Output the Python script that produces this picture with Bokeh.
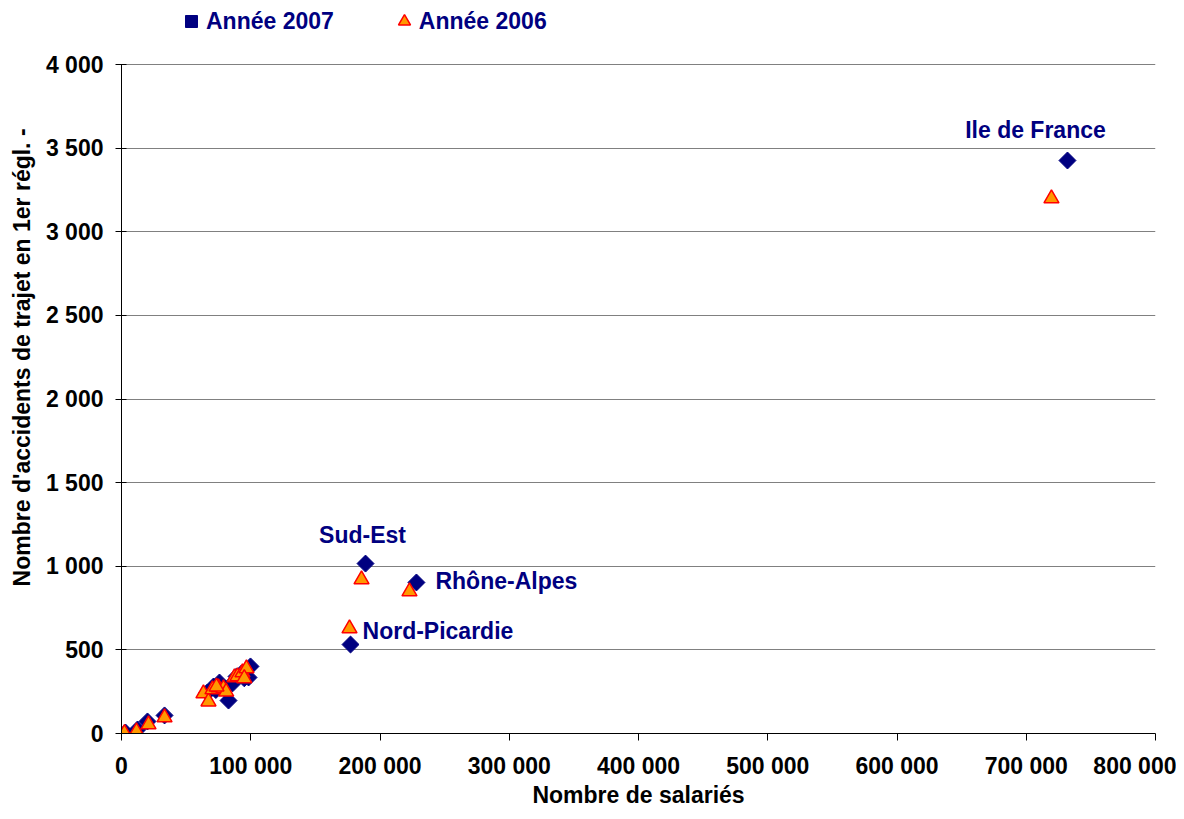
import numpy as np
from bokeh.plotting import figure
from bokeh.models import (Range1d, FixedTicker, Legend, LegendItem, Label, ColumnDataSource)
from bokeh.embed import file_html
from bokeh.resources import INLINE

# ---- data ----
x2007 = [731900, 188800, 228200, 177200,
         66500, 71200, 75800, 82800, 89000, 92800, 99800, 98300, 79700, 95000, 86000, 73000,
         3100, 12400, 20100, 33300]
y2007 = [3426, 1016, 903, 532,
         245, 281, 305, 197, 341, 359, 401, 335, 269, 330, 300, 260,
         6, 24, 72, 108]
x2006 = [719500, 185700, 222800, 176400,
         63400, 67300, 70400, 75000, 78900, 87400, 89700, 93600, 96700, 81000, 95000, 73500,
         2300, 11600, 20900, 33300]
y2006 = [3199, 921, 849, 628,
         239, 191, 263, 275, 269, 335, 341, 365, 389, 250, 330, 280,
         2, 12, 54, 96]
label_names = ["Ile de France", "Sud-Est", "Rhône-Alpes", "Nord-Picardie"]
label_x = x2007[:4]
label_y = y2007[:4]
series_names = ["Année 2007", "Année 2006"]
x_ticks = [0, 100000, 200000, 300000, 400000, 500000, 600000, 700000, 800000]
y_ticks = [0, 500, 1000, 1500, 2000, 2500, 3000, 3500, 4000]
y_title = "Nombre d'accidents de trajet en 1er régl. -"
x_title = "Nombre de salariés"
Y_MAX = 4000

FONT = "Liberation Sans"
NAVY = "#000080"
FS = "23px"

# the frame runs up to the top of the canvas so that the legend (drawn in the
# frame) can sit above the 4 000 line; 669 px plot height, 64 px headroom
FRAME_H, TOP_ROOM = 669, 64


def fmt(v):
    return f"{v:,}".replace(",", " ")


p = figure(width=1176, height=811, output_backend="svg", toolbar_location=None,
           x_range=Range1d(0, 800000),
           y_range=Range1d(0, Y_MAX * (FRAME_H + TOP_ROOM) / FRAME_H),
           min_border_left=121, min_border_right=21, min_border_top=0, min_border_bottom=78)
p.outline_line_color = None
p.background_fill_color = "white"

p.xgrid.grid_line_color = None
p.ygrid.grid_line_color = "#808080"
p.ygrid.grid_line_width = 1

for ax in [p.xaxis[0], p.yaxis[0]]:
    ax.axis_line_color = "#000000"
    ax.major_tick_line_color = "#000000"
    ax.minor_tick_line_color = None
    ax.major_label_text_font = FONT
    ax.major_label_text_font_style = "bold"
    ax.major_label_text_font_size = FS
    ax.major_label_text_color = "#000000"
    ax.axis_label_text_font = FONT
    ax.axis_label_text_font_style = "bold"
    ax.axis_label_text_font_size = FS
    ax.axis_label_text_color = "#000000"

p.xaxis.ticker = FixedTicker(ticks=x_ticks)
p.xaxis.major_label_overrides = {t: fmt(t) for t in x_ticks}
p.xaxis.major_tick_out = 7
p.xaxis.major_tick_in = 0
p.xaxis.major_label_standoff = 12
p.xaxis.axis_label = x_title
p.xaxis.axis_label_standoff = 0

p.yaxis.ticker = FixedTicker(ticks=y_ticks)
p.yaxis.bounds = (0, Y_MAX)
p.yaxis.major_label_overrides = {t: fmt(t) for t in y_ticks}
p.yaxis.major_tick_out = 6
p.yaxis.major_tick_in = 5
p.yaxis.major_label_standoff = 12
# leading no-break spaces move the visible title up, as in the reference
p.yaxis.axis_label = "\u00a0" * 3 + y_title
p.yaxis.axis_label_standoff = 8

src07 = ColumnDataSource(dict(x=x2007, y=y2007))
src06 = ColumnDataSource(dict(x=x2006, y=y2006))
r07 = p.scatter("x", "y", source=src07, marker="square", angle=np.pi / 4, size=12,
                fill_color=NAVY, line_color=NAVY)
r06 = p.scatter("x", "y", source=src06, marker="triangle", size=15,
                fill_color="#FF9900", line_color="#FF0000", line_width=1.5)

offsets = [(-32, 31, "center"), (-3, 29, "center"), (19, 1, "left"), (12, 14, "left")]
for name, lx, ly, (dx, dy, al) in zip(label_names, label_x, label_y, offsets):
    p.add_layout(Label(x=lx, y=ly, x_offset=dx, y_offset=dy, text=name,
                       text_font=FONT, text_font_style="bold", text_font_size=FS,
                       text_color=NAVY, text_align=al, text_baseline="middle"))

legend = Legend(items=[LegendItem(label=series_names[0], renderers=[r07]),
                       LegendItem(label=series_names[1], renderers=[r06])],
                location=(55, 697), orientation="horizontal",
                border_line_color=None, background_fill_alpha=0,
                label_text_font=FONT, label_text_font_style="bold",
                label_text_font_size=FS, label_text_color=NAVY,
                glyph_width=30, glyph_height=30, label_standoff=0, spacing=55,
                padding=2, margin=0)
p.add_layout(legend, "center")

open("out.html", "w").write(file_html(p, INLINE))
